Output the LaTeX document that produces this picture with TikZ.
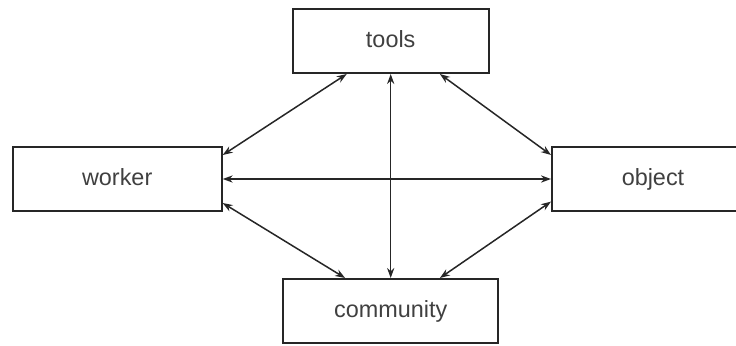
\documentclass[tikz,border=0pt]{standalone}
\usepackage{fontspec}
\setmainfont{Liberation Sans}
\usetikzlibrary{arrows.meta}

\begin{document}
\begin{tikzpicture}[x=0.5pt,y=-0.5pt,
    box/.style={draw=black!85,line width=1pt,fill=white,minimum height=32pt,
      inner sep=0pt,text=black!75,text height=8.6pt,text depth=2.6pt,
      font=\fontsize{11.7}{14}\selectfont},
    link/.style={draw=black!85,line width=0.75pt,{Stealth[length=5pt,width=3.6pt]}-{Stealth[length=5pt,width=3.6pt]}}]
\clip (0,0) rectangle (736,345);
\node[box,minimum width=98pt] (tools) at (390.7,41) {tools};
\node[box,minimum width=104.5pt] (worker) at (117.2,179) {worker};
\node[box,minimum width=101pt] (object) at (653,179) {object};
\node[box,minimum width=107.5pt] (community) at (390.7,311) {community};
\draw[link] ([yshift=12pt]worker.east) -- ([xshift=-22pt]tools.south);
\draw[link] ([xshift=24.6pt]tools.south) -- ([yshift=12pt]object.west);
\draw[link] ([yshift=-12pt]worker.east) -- ([xshift=-22.8pt]community.north);
\draw[link] ([yshift=-11.3pt]object.west) -- ([xshift=24.6pt]community.north);
\draw[link] (worker.east) -- (object.west);
\draw[link] (tools.south) -- (community.north);
\end{tikzpicture}
\end{document}
